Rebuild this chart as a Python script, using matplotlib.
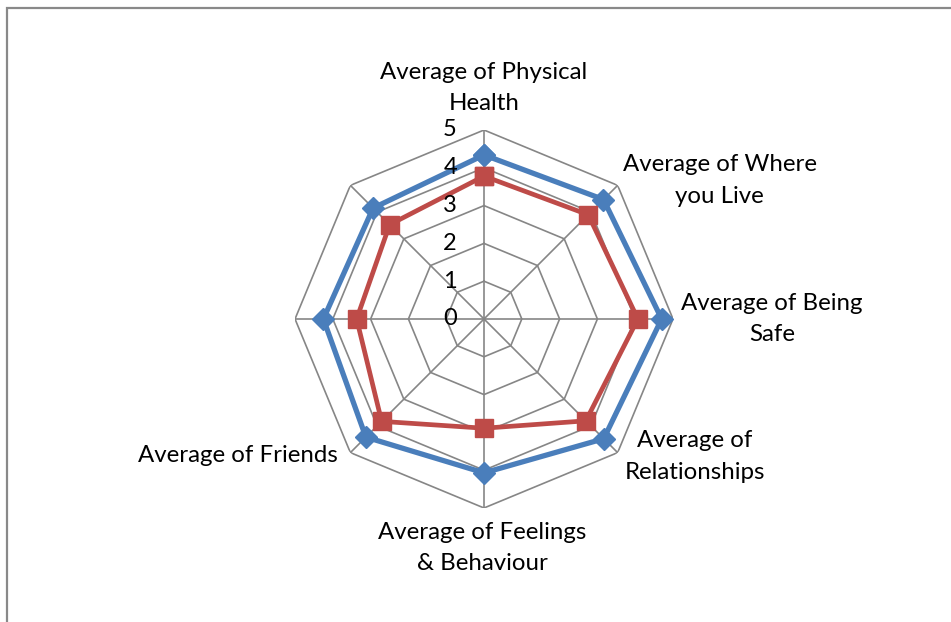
import numpy as np
import matplotlib.pyplot as plt
from matplotlib.patches import Rectangle

plt.rcParams['font.family'] = ['Lato', 'DejaVu Sans']

# categories clockwise from the top (two spokes carry no label)
categories = ['Average of Physical\nHealth', 'Average of Where\nyou Live',
              'Average of Being\nSafe', 'Average of\nRelationships',
              'Average of Feelings\n& Behaviour', 'Average of Friends', '', '']
series_blue = [4.34, 4.47, 4.70, 4.48, 4.07, 4.42, 4.25, 4.15]
series_red = [3.78, 3.90, 4.07, 3.81, 2.89, 3.83, 3.37, 3.53]
rings = [1, 2, 3, 4, 5]
ring_labels = ['0', '1', '2', '3', '4', '5']

# label centres (theta in degrees clockwise from top, radius in data units)
label_pos = [(0, 6.11), (59.5, 7.24), (90, 7.62), (123, 6.66),
             (180.5, 6.06), (240.9, 7.45), (270, 7.0), (315, 6.5)]

n = len(categories)
theta = np.linspace(0, 2 * np.pi, n, endpoint=False)
theta_c = np.append(theta, theta[0])

fig = plt.figure(figsize=(9.51, 6.22), dpi=100)
ax = fig.add_axes([0.3102, 0.1833, 0.3975, 0.6077], projection='polar')
ax.set_theta_zero_location('N')
ax.set_theta_direction(-1)
ax.set_ylim(0, 5)
ax.grid(False)
ax.spines['polar'].set_visible(False)
ax.set_xticks([])
ax.set_yticks([])
ax.patch.set_alpha(0)

grid_col = '#868686'
for r in rings:
    ax.plot(theta_c, [r] * (n + 1), color=grid_col, lw=1.2, zorder=1)
for t in theta:
    ax.plot([t, t], [0, 5], color=grid_col, lw=1.2, zorder=1)

def closed(v):
    return list(v) + [v[0]]

ax.plot(theta_c, closed(series_blue), color='#4A7EBB', lw=3.8, marker='D',
        ms=11, zorder=3, clip_on=False)
ax.plot(theta_c, closed(series_red), color='#BE4B48', lw=3.4, marker='s',
        ms=13.5, zorder=4, clip_on=False)

for i, lab in enumerate(ring_labels):
    ax.annotate(lab, xy=(0, i), xytext=(-19.5, 0), textcoords='offset points',
                ha='right', va='center', fontsize=17, color='black', zorder=5)

for lab, (deg, r) in zip(categories, label_pos):
    if lab:
        ax.text(np.deg2rad(deg), r, lab, ha='center', va='center',
                fontsize=17.3, linespacing=1.64, clip_on=False)

fig.patches.append(Rectangle((6.5 / 951, -0.1), 2, (622 - 8) / 622 + 0.1,
                             transform=fig.transFigure, fill=False,
                             edgecolor='#898989', lw=1.6))

fig.savefig('out.png', dpi=100, facecolor='white')
